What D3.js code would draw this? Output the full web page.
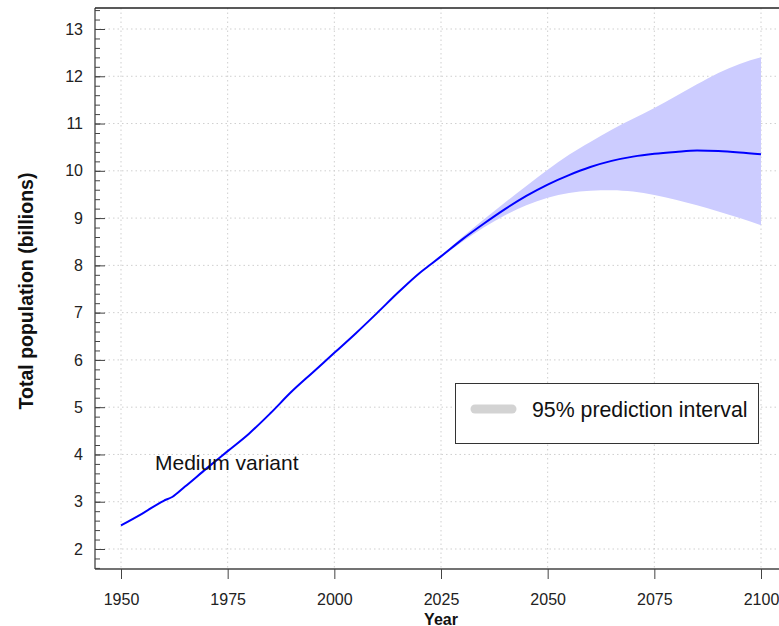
<!DOCTYPE html>
<html>
<head>
<meta charset="utf-8">
<script src="https://cdn.jsdelivr.net/npm/d3@7"></script>
<style>
  html, body { margin: 0; padding: 0; background: #fff; }
  svg { display: block; font-family: "Liberation Sans", Arial, Helvetica, sans-serif; }
</style>
</head>
<body>
<svg id="chart" width="779" height="626"></svg>
<script>
// ---- data ----
const years = [1950, 1955, 1960, 1962, 1965, 1970, 1975, 1980, 1985, 1990, 1995, 2000, 2005, 2010, 2015, 2020, 2022, 2025, 2030, 2035, 2040, 2045, 2050, 2055, 2060, 2065, 2070, 2075, 2080, 2085, 2090, 2095, 2100];
const medium = [2.50, 2.75, 3.02, 3.10, 3.32, 3.70, 4.07, 4.44, 4.87, 5.33, 5.74, 6.15, 6.56, 6.99, 7.43, 7.84, 7.98, 8.19, 8.55, 8.88, 9.19, 9.47, 9.71, 9.91, 10.08, 10.21, 10.30, 10.36, 10.40, 10.43, 10.42, 10.39, 10.35];

const bandYears = [2022, 2025, 2030, 2035, 2040, 2045, 2050, 2055, 2060, 2065, 2070, 2075, 2080, 2085, 2090, 2095, 2100];
const lower95 = [7.98, 8.17, 8.50, 8.80, 9.06, 9.27, 9.43, 9.53, 9.58, 9.59, 9.56, 9.49, 9.39, 9.27, 9.14, 9.00, 8.85];
const upper95 = [7.98, 8.21, 8.60, 8.97, 9.33, 9.68, 10.02, 10.34, 10.61, 10.87, 11.10, 11.33, 11.58, 11.83, 12.07, 12.26, 12.40];

const xTicks = [1950, 1975, 2000, 2025, 2050, 2075, 2100];
const yTicks = [2, 3, 4, 5, 6, 7, 8, 9, 10, 11, 12, 13];

// ---- layout ----
const svg = d3.select("#chart");
const padLeft = 95, padTop = 8, padBottom = 569, rightEdge = 800;

const x = d3.scaleLinear().domain([1950, 2100]).range([121, 761]);
const y = d3.scaleLinear().domain([2, 13]).range([549, 29]);

// grid
const grid = svg.append("g").attr("stroke", "#cfcfcf").attr("stroke-width", 1).attr("stroke-dasharray", "1.5,3");
grid.selectAll("line.v").data(xTicks).join("line").attr("class", "v")
  .attr("x1", d => x(d)).attr("x2", d => x(d)).attr("y1", padTop).attr("y2", padBottom);
grid.selectAll("line.h").data(yTicks).join("line").attr("class", "h")
  .attr("x1", padLeft).attr("x2", rightEdge).attr("y1", d => y(d)).attr("y2", d => y(d));

// band
const band = bandYears.map((yr, i) => ({ yr, lo: lower95[i], hi: upper95[i] }));
svg.append("path").datum(band)
  .attr("fill", "#ccccff")
  .attr("d", d3.area().x(d => x(d.yr)).y0(d => y(d.lo)).y1(d => y(d.hi)).curve(d3.curveMonotoneX));

// median line
const med = years.map((yr, i) => ({ yr, v: medium[i] }));
svg.append("path").datum(med)
  .attr("fill", "none").attr("stroke", "#0000ff").attr("stroke-width", 2)
  .attr("d", d3.line().x(d => x(d.yr)).y(d => y(d.v)).curve(d3.curveMonotoneX));

// axes
const yMinor = d3.range(16, 135, 2).map(v => v / 10);
svg.append("g").attr("transform", `translate(${padLeft},0)`)
  .call(d3.axisLeft(y).tickValues(yMinor).tickSizeInner(-5).tickSizeOuter(0).tickFormat(""))
  .call(g => g.select(".domain").remove())
  .call(g => g.selectAll("line").attr("stroke", "#444"));

svg.append("g").attr("transform", `translate(${padLeft},0)`)
  .call(d3.axisLeft(y).tickValues(yTicks).tickSizeInner(-10).tickSizeOuter(0).tickPadding(12).tickFormat(d3.format("d")))
  .call(g => g.select(".domain").remove())
  .call(g => g.selectAll("line").attr("stroke", "#444"))
  .call(g => g.selectAll("text").attr("font-size", 16).attr("fill", "#222").attr("font-family", "Liberation Sans, Arial, sans-serif"));

svg.append("g").attr("transform", `translate(0,${padBottom})`)
  .call(d3.axisBottom(x).tickValues(xTicks).tickSizeInner(10).tickSizeOuter(0).tickPadding(15).tickFormat(d3.format("d")))
  .call(g => g.select(".domain").remove())
  .call(g => g.selectAll("line").attr("stroke", "#444"))
  .call(g => g.selectAll("text").attr("font-size", 16).attr("fill", "#222").attr("font-family", "Liberation Sans, Arial, sans-serif"));

// frame lines
svg.append("line").attr("x1", padLeft).attr("x2", padLeft).attr("y1", padTop).attr("y2", padBottom).attr("stroke", "#444").attr("stroke-width", 1.3);
svg.append("line").attr("x1", padLeft).attr("x2", rightEdge).attr("y1", padBottom).attr("y2", padBottom).attr("stroke", "#444").attr("stroke-width", 1.3);
svg.append("line").attr("x1", padLeft).attr("x2", rightEdge).attr("y1", padTop).attr("y2", padTop).attr("stroke", "#222").attr("stroke-width", 1.3);

// axis titles
svg.append("text").attr("transform", "translate(33,291) rotate(-90)")
  .attr("text-anchor", "middle").attr("font-weight", "bold").attr("font-size", 19.5).attr("fill", "#111")
  .text("Total population (billions)");
svg.append("text").attr("x", 441).attr("y", 624.5)
  .attr("text-anchor", "middle").attr("font-weight", "bold").attr("font-size", 16).attr("fill", "#111")
  .text("Year");

// annotation
svg.append("text").attr("x", 155).attr("y", 470).attr("font-size", 21).attr("fill", "#111").text("Medium variant");

// legend
svg.append("rect").attr("x", 455.5).attr("y", 383.5).attr("width", 303).attr("height", 60)
  .attr("fill", "#fff").attr("stroke", "#333").attr("stroke-width", 1);
svg.append("line").attr("x1", 475).attr("x2", 512).attr("y1", 409).attr("y2", 409)
  .attr("stroke", "#d3d3d3").attr("stroke-width", 9).attr("stroke-linecap", "round");
svg.append("text").attr("x", 532).attr("y", 417).attr("font-size", 21.3).attr("fill", "#111").text("95% prediction interval");
</script>
</body>
</html>
